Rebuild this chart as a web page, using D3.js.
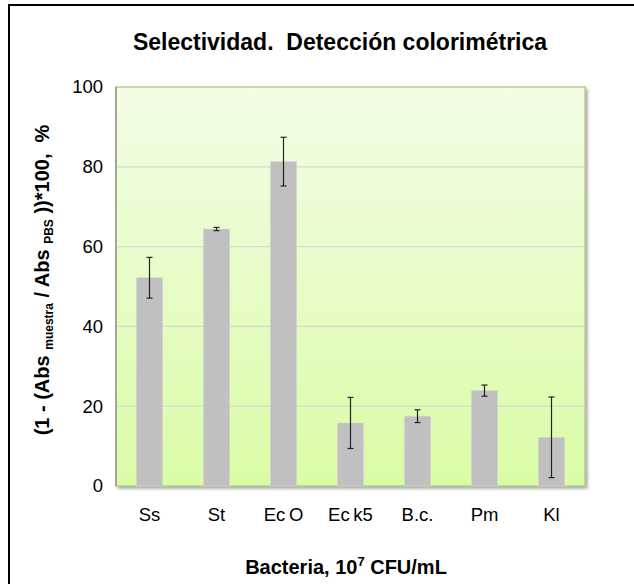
<!DOCTYPE html>
<html><head><meta charset="utf-8">
<script src="https://cdn.jsdelivr.net/npm/d3@7"></script>
<style>body{margin:0;background:#fff}svg{display:block}text{font-family:"Liberation Sans",Arial,sans-serif}</style>
</head><body><svg id="c" width="634" height="584"></svg>
<script>
const categories = ["Ss","St","Ec\u2009O","Ec\u2009k5","B.c.","Pm","Kl"];
const values = [52.2, 64.4, 81.3, 15.8, 17.5, 23.9, 12.2];
const errors = [5.1, 0.4, 6.1, 6.4, 1.6, 1.4, 10.1];
const yTicks = [0, 20, 40, 60, 80, 100];

const svg = d3.select("#c");
const m = {l:116, r:585, t:87, b:486};
const x = d3.scaleBand().domain(categories).range([m.l, m.r]).paddingInner(0.61).paddingOuter(0.305);
const y = d3.scaleLinear().domain([0,100]).range([m.b, m.t]);

// outer frame
svg.append("rect").attr("x",9).attr("y",5).attr("width",700).attr("height",700)
  .attr("fill","#fff").attr("stroke","#000").attr("stroke-width",2);

const defs = svg.append("defs");
const g = defs.append("linearGradient").attr("id","bg").attr("x1",0).attr("y1",0).attr("x2",0).attr("y2",1);
g.append("stop").attr("offset","0%").attr("stop-color","#f3fde6");
g.append("stop").attr("offset","100%").attr("stop-color","#dafca6");
const f = defs.append("filter").attr("id","sh").attr("x","-5%").attr("y","-5%").attr("width","115%").attr("height","115%");
f.append("feDropShadow").attr("dx",2).attr("dy",2).attr("stdDeviation",1.5).attr("flood-color","#000").attr("flood-opacity",0.35);

svg.append("rect").attr("x",m.l).attr("y",m.t).attr("width",m.r-m.l).attr("height",m.b-m.t)
  .attr("fill","url(#bg)").attr("stroke","#a9c47f").attr("stroke-width",1.2).attr("filter","url(#sh)");

// gridlines
svg.append("g").selectAll("line").data(yTicks.filter(d=>d>0 && d<100)).join("line")
  .attr("x1",m.l).attr("x2",m.r).attr("y1",d=>y(d)).attr("y2",d=>y(d))
  .attr("stroke","#d6d9cf").attr("stroke-width",1.2);

// bars
svg.append("g").selectAll("rect").data(values).join("rect")
  .attr("x",(d,i)=>x(categories[i])).attr("width",x.bandwidth())
  .attr("y",d=>y(d)).attr("height",d=>y(0)-y(d))
  .attr("fill","#c0c0c0").attr("stroke","#d4d4d4").attr("stroke-width",0.6);

// error bars
const eb = svg.append("g").attr("stroke","#222").attr("stroke-width",1.2);
values.forEach((v,i)=>{
  const cx = x(categories[i]) + x.bandwidth()/2;
  const lo = y(v-errors[i]), hi = y(v+errors[i]);
  eb.append("line").attr("x1",cx).attr("x2",cx).attr("y1",lo).attr("y2",hi);
  eb.append("line").attr("x1",cx-3).attr("x2",cx+3).attr("y1",lo).attr("y2",lo);
  eb.append("line").attr("x1",cx-3).attr("x2",cx+3).attr("y1",hi).attr("y2",hi);
});

// left axis line
svg.append("line").attr("x1",m.l).attr("x2",m.l).attr("y1",m.t).attr("y2",m.b).attr("stroke","#8a8a8a").attr("stroke-width",1.2);

// y axis
const ya = svg.append("g").attr("transform",`translate(${m.l-13},0)`)
  .call(d3.axisLeft(y).tickValues(yTicks).tickSize(0).tickPadding(0));
ya.select(".domain").remove();
ya.selectAll("text").attr("font-size",18.5).attr("fill","#000").attr("font-family","Liberation Sans, Arial, sans-serif");

// x axis
const xa = svg.append("g").attr("transform",`translate(0,${m.b+22})`)
  .call(d3.axisBottom(x).tickSize(0).tickPadding(0));
xa.select(".domain").remove();
xa.selectAll("text").attr("font-size",18.5).attr("fill","#000").attr("font-family","Liberation Sans, Arial, sans-serif");

// title
svg.append("text").attr("x",340).attr("y",50).attr("text-anchor","middle")
  .attr("font-size",23).attr("font-weight","bold").attr("xml:space","preserve").text("Selectividad.  Detección colorimétrica");

// x title
const xt = svg.append("text").attr("x",346).attr("y",574).attr("text-anchor","middle")
  .attr("font-size",20).attr("font-weight","bold");
xt.append("tspan").text("Bacteria, 10");
xt.append("tspan").attr("font-size",13).attr("dy",-8).text("7");
xt.append("tspan").attr("dy",8).text(" CFU/mL");

// y title
const yt = svg.append("text").attr("transform","translate(49,280) rotate(-90)").attr("text-anchor","middle")
  .attr("font-size",20).attr("font-weight","bold").attr("xml:space","preserve");
yt.append("tspan").text("(1 - (Abs ");
yt.append("tspan").attr("font-size",12).attr("dy",4).text("muestra");
yt.append("tspan").attr("dy",-4).text(" / Abs ");
yt.append("tspan").attr("font-size",12).attr("dy",4).text("PBS");
yt.append("tspan").attr("dy",-4).text(" ))*100,  %");
</script></body></html>
